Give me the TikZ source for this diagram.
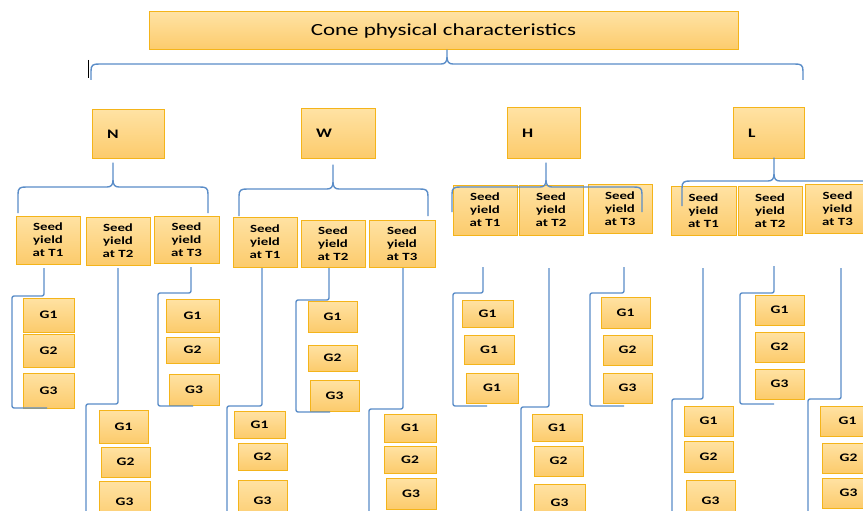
\documentclass[tikz,border=0pt]{standalone}
\usepackage{fontspec}
\setmainfont{Carlito}[FakeStretch=1.35]
\definecolor{boxline}{HTML}{F4B41A}
\definecolor{boxtop}{HTML}{FFE2A3}
\definecolor{boxbot}{HTML}{FCCB6C}
\definecolor{connblue}{HTML}{5A8DC8}
\tikzset{
  box/.style={draw=boxline, line width=1pt, top color=boxtop, bottom color=boxbot,
    inner sep=0pt, outer sep=0pt},
  titlebox/.style={box, font=\fontsize{17}{20}\selectfont},
  letterbox/.style={box, font=\bfseries\fontsize{13}{15}\selectfont},
  seedbox/.style={box, align=center, font=\bfseries\fontsize{11}{13}\selectfont},
  gbox/.style={box, font=\bfseries\fontsize{11.5}{13}\selectfont},
  conn/.style={draw=connblue, line width=1.4pt, line join=round},
}
% \bx[style]{name}{x1}{y1}{x2}{y2}{text}
\newcommand\bx[7][]{%
  \pgfmathsetmacro\bw{#5-#3}\pgfmathsetmacro\bh{#6-#4}%
  \node[#1, minimum width=\bw pt, minimum height=\bh pt] (#2) at ({(#3+#5)/2},{(#4+#6)/2}) {#7};}
% \brc{x1}{xt}{x2}{yh}{yt}{yb}
\newcommand\brc[6]{%
  \draw[conn] (#1,#6) -- ({#1},{#4+7}) .. controls ({#1},{#4+1}) and ({#1+2},{#4}) .. ({#1+8},{#4})
    -- ({#2-6},{#4}) .. controls ({#2-2},{#4}) and ({#2},{#4-2}) .. ({#2},{#4-7}) -- (#2,#5)
    -- ({#2},{#4-7}) .. controls ({#2},{#4-2}) and ({#2+2},{#4}) .. ({#2+6},{#4})
    -- ({#3-8},{#4}) .. controls ({#3-2},{#4}) and ({#3},{#4+1}) .. ({#3},{#4+7}) -- (#3,#6);}
% closed bracket \cbr{xv}{ytop}{yk}{xl}{ybot}{xr}
\newcommand\cbr[6]{\draw[conn, rounded corners=2pt] (#1,#2) -- (#1,#3) -- (#4,#3) -- (#4,#5) -- (#6,#5);}
% open bracket \obr{xv}{ytop}{yk}{xl}
\newcommand\obr[4]{\draw[conn, rounded corners=2pt] (#1,#2) -- (#1,#3) -- (#4,#3) -- (#4,530);}
\begin{document}
\begin{tikzpicture}[x=1pt,y=-1pt]
\path[use as bounding box, clip] (0,0) rectangle (863,511);
\fill[white] (0,0) rectangle (863,511);
% title
\bx[titlebox]{title}{149}{12}{738}{50}{Cone physical characteristics}
\brc{91}{447}{803}{64}{50}{80}
\draw[black, line width=1pt] (88,60) -- (88,78);
% level 2
\bx[letterbox]{N}{92}{110}{164}{158}{\makebox[\dimexpr\bw pt-30pt\relax][l]{N}}
\bx[letterbox]{W}{301}{109}{375}{158}{\makebox[\dimexpr\bw pt-30pt\relax][l]{W}}
\bx[letterbox]{H}{507}{108}{580}{158}{\makebox[\dimexpr\bw pt-30pt\relax][l]{H}}
\bx[letterbox]{L}{733}{108}{804}{158}{\makebox[\dimexpr\bw pt-30pt\relax][l]{L}}
\brc{18}{113}{208}{187}{163}{213}
\brc{239}{333}{428}{189}{165}{216}
% seed boxes
\bx[seedbox]{nT1}{16}{216}{80}{264}{Seed\\yield\\at T1}
\bx[seedbox]{nT2}{86}{217}{150}{265}{Seed\\yield\\at T2}
\bx[seedbox]{nT3}{154}{216}{219}{263}{Seed\\yield\\at T3}
\bx[seedbox]{wT1}{233}{217}{297}{267}{Seed\\yield\\at T1}
\bx[seedbox]{wT2}{301}{220}{365}{267}{Seed\\yield\\at T2}
\bx[seedbox]{wT3}{369}{220}{435}{267}{Seed\\yield\\at T3}
\bx[seedbox]{hT1}{453}{185}{517}{235}{Seed\\yield\\at T1}
\bx[seedbox]{hT2}{519}{185}{583}{235}{Seed\\yield\\at T2}
\bx[seedbox]{hT3}{588}{184}{652}{233}{Seed\\yield\\at T3}
\bx[seedbox]{lT1}{671}{186}{736}{235}{Seed\\yield\\at T1}
\bx[seedbox]{lT2}{738}{186}{802}{235}{Seed\\yield\\at T2}
\bx[seedbox]{lT3}{805}{184}{870}{233}{Seed\\yield\\at T3}
\brc{452}{546}{642}{187}{163}{212}
\brc{682}{774}{900}{181}{158}{206}
% G boxes
\bx[gbox]{n1a}{23}{298}{74}{332}{G1}
\bx[gbox]{n1b}{23}{334}{74}{367}{G2}
\bx[gbox]{n1c}{23}{373}{74}{408}{G3}
\bx[gbox]{n2a}{99}{410}{148}{443}{G1}
\bx[gbox]{n2b}{101}{447}{150}{477}{G2}
\bx[gbox]{n2c}{99}{481}{150}{522}{G3}
\bx[gbox]{n3a}{166}{299}{219}{332}{G1}
\bx[gbox]{n3b}{166}{337}{219}{363}{G2}
\bx[gbox]{n3c}{169}{374}{219}{405}{G3}
\bx[gbox]{w1a}{234}{411}{285}{438}{G1}
\bx[gbox]{w1b}{238}{443}{287}{470}{G2}
\bx[gbox]{w1c}{238}{480}{287}{522}{G3}
\bx[gbox]{w2a}{308}{301}{357}{332}{G1}
\bx[gbox]{w2b}{308}{345}{357}{371}{G2}
\bx[gbox]{w2c}{310}{380}{359}{411}{G3}
\bx[gbox]{w3a}{384}{414}{436}{442}{G1}
\bx[gbox]{w3b}{384}{446}{436}{473}{G2}
\bx[gbox]{w3c}{386}{478}{436}{509}{G3}
\bx[gbox]{h1a}{462}{300}{513}{327}{G1}
\bx[gbox]{h1b}{464}{335}{514}{364}{G1}
\bx[gbox]{h1c}{466}{373}{518}{403}{G1}
\bx[gbox]{h2a}{532}{414}{582}{441}{G1}
\bx[gbox]{h2b}{534}{446}{583}{476}{G2}
\bx[gbox]{h2c}{534}{484}{585}{522}{G3}
\bx[gbox]{h3a}{601}{297}{650}{328}{G1}
\bx[gbox]{h3b}{603}{335}{652}{365}{G2}
\bx[gbox]{h3c}{603}{373}{652}{403}{G3}
\bx[gbox]{l1a}{684}{406}{733}{436}{G1}
\bx[gbox]{l1b}{684}{441}{733}{472}{G2}
\bx[gbox]{l1c}{686}{480}{735}{522}{G3}
\bx[gbox]{l2a}{755}{295}{804}{325}{G1}
\bx[gbox]{l2b}{755}{332}{804}{362}{G2}
\bx[gbox]{l2c}{755}{369}{804}{399}{G3}
\bx[gbox]{l3a}{820}{406}{875}{436}{G1}
\bx[gbox]{l3b}{822}{443}{875}{473}{G2}
\bx[gbox]{l3c}{822}{478}{875}{508}{G3}
% brackets
\cbr{44}{268}{296}{12}{408}{47}
\obr{118}{268}{404}{86}
\cbr{191}{267}{293}{158}{406}{193}
\obr{262}{268}{406}{227}
\cbr{329}{268}{300}{296}{412}{330}
\obr{403}{268}{409}{369}
\cbr{483}{267}{293}{453}{406}{487}
\obr{549}{268}{407}{521}
\cbr{624}{267}{293}{590}{406}{624}
\obr{703}{268}{399}{672}
\cbr{774}{266}{293}{740}{404}{774}
\obr{841}{268}{399}{808}
\end{tikzpicture}
\end{document}
